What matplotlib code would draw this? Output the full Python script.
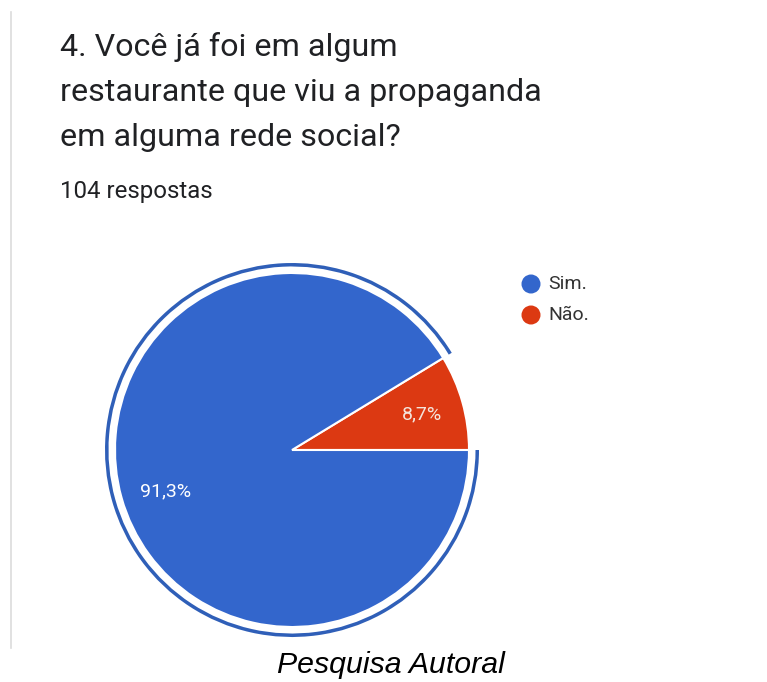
import matplotlib
matplotlib.use("Agg")
import matplotlib.pyplot as plt
from matplotlib.patches import Wedge, Circle

title_lines = ["4. Você já foi em algum",
               "restaurante que viu a propaganda",
               "em alguma rede social?"]
subtitle = "104 respostas"
categories = ["Sim.", "Não."]
values = [91.3, 8.7]
labels = ["91,3%", "8,7%"]
colors = ["#3366cc", "#dc3912"]
caption = "Pesquisa Autoral"

W, H = 767, 682
fig = plt.figure(figsize=(W / 100, H / 100), dpi=100)
ax = fig.add_axes([0, 0, 1, 1])


def Y(y):
    return H - y


# pie: start at 3 o'clock, counterclockwise; Não first then Sim
cx, cy, r = 292, Y(450), 177
order = [1, 0]
wedges, texts = ax.pie([values[i] for i in order], colors=[colors[i] for i in order],
                       center=(cx, cy), radius=r, startangle=0, counterclock=True,
                       wedgeprops=dict(edgecolor="white", linewidth=1.5),
                       frame=True)
ax.set_xlim(0, W)
ax.set_ylim(0, H)
ax.set_aspect("auto")
ax.axis("off")

# left border of the card
ax.plot([11, 11], [Y(12), Y(648)], color="#dcdcdc", lw=1.2)

# title
for i, line in enumerate(title_lines):
    ax.text(60, Y(56 + i * 45), line, fontsize=23.2, family="Roboto",
            color="#202124", ha="left", va="baseline")
ax.text(60, Y(198), subtitle, fontsize=17.3, family="Roboto",
        color="#202124", ha="left", va="baseline")

# highlight ring around the selected "Sim." slice
ang_nao = values[1] / sum(values) * 360
ring = Wedge((cx, cy), 187, ang_nao, 360, width=3.5, facecolor="#2f5fb8",
             edgecolor="none")
ax.add_patch(ring)

# percentage labels
ax.text(166, Y(491), labels[0], fontsize=14, family="Roboto", color="white",
        ha="center", va="center")
ax.text(422, Y(414), labels[1], fontsize=14, family="Roboto", color="#f4e4dc",
        ha="center", va="center")

# legend
for i, (cat, col) in enumerate(zip(categories, colors)):
    yy = Y(284 + i * 31)
    ax.add_patch(Circle((531, yy), 9.5, facecolor=col, edgecolor="none"))
    ax.text(548, yy, cat, fontsize=14, family="Roboto", color="#333333",
            ha="left", va="center")

# caption
ax.text(391, Y(665), caption, fontsize=21.8, family="Liberation Sans",
        style="italic", color="black", ha="center", va="center")

fig.savefig("out.png", dpi=100)
